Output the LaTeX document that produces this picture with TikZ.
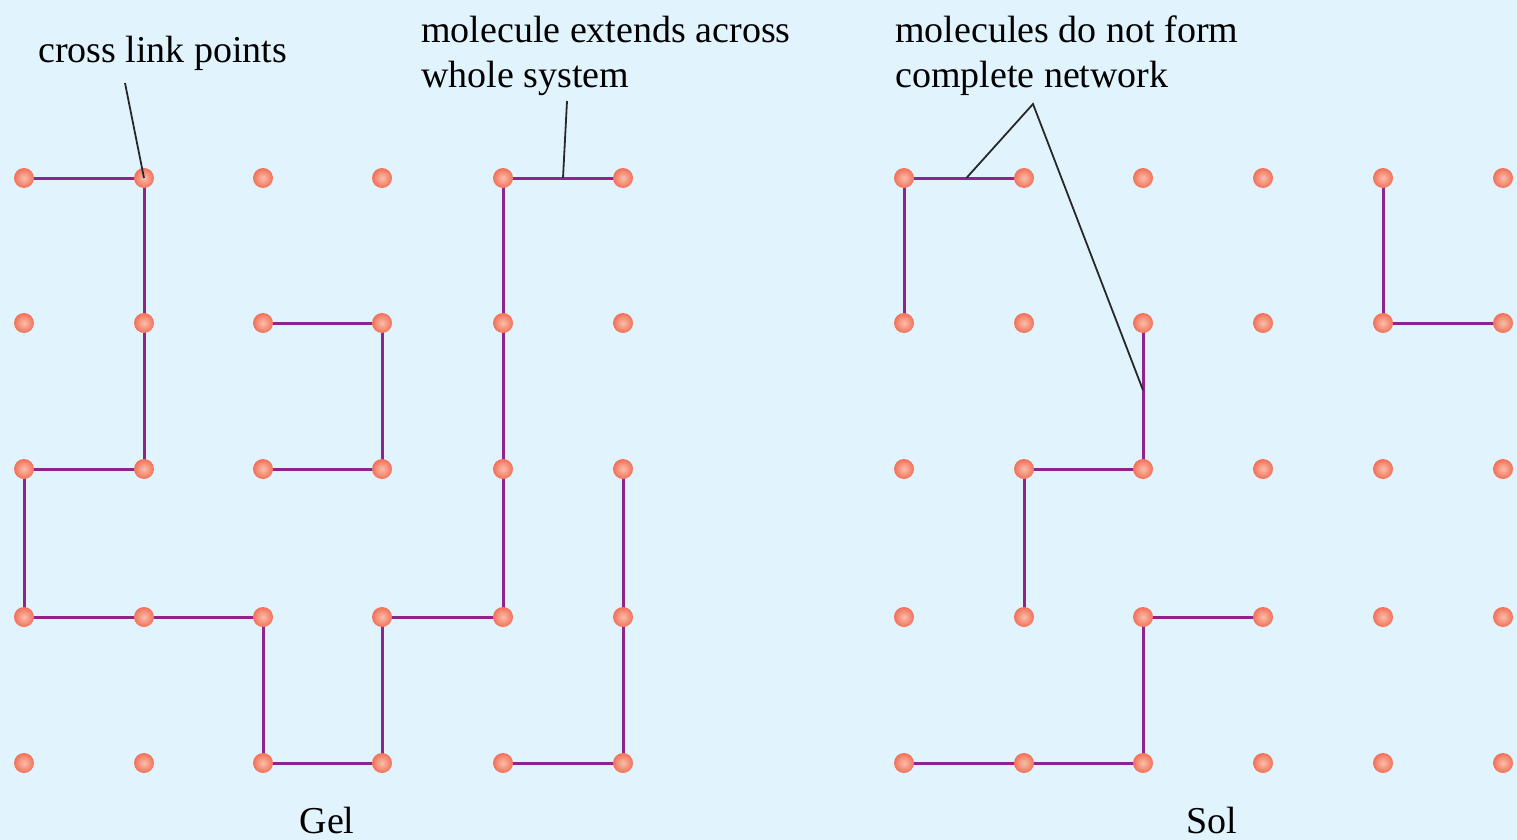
\documentclass[tikz,border=0pt]{standalone}
\usepackage{fontspec}
\setmainfont{Liberation Serif}
\usetikzlibrary{calc,backgrounds}
\definecolor{bgc}{RGB}{225,244,253}
\definecolor{bond}{RGB}{142,36,142}
\definecolor{dotout}{RGB}{243,112,88}
\definecolor{dotin}{RGB}{250,190,170}
\definecolor{ptr}{RGB}{40,40,40}
\tikzset{
  dot/.style={circle,minimum size=20pt,inner sep=0pt,shading=radial,inner color=dotin,outer color=dotout},
  bondline/.style={draw=bond,line width=3pt,line join=miter},
  pointer/.style={draw=ptr,line width=1.8pt},
  lbl/.style={font=\fontsize{38}{45}\selectfont,inner sep=0pt,anchor=base west,text=black}
}
\begin{document}
\begin{tikzpicture}[x=1pt,y=-1pt]
\useasboundingbox (0,0) rectangle (1517,840);
% dots
\foreach \c/\x in {1/24,2/144,3/263,4/382,5/503,6/623}
  \foreach \r/\y in {1/178,2/323,3/469,4/617,5/763}
    \node[dot] (g\c\r) at (\x,\y) {};
\foreach \c/\x in {1/904,2/1024,3/1143,4/1263,5/1383,6/1503}
  \foreach \r/\y in {1/178,2/323,3/469,4/617,5/763}
    \node[dot] (s\c\r) at (\x,\y) {};
\begin{scope}[on background layer]
  \fill[bgc] (0,0) rectangle (1517,840);
  % Gel bonds
  \draw[bondline] (g11.center) -- (g21.center) -- (g23.center) -- (g13.center) -- (g14.center)
     -- (g34.center) -- (g35.center) -- (g45.center) -- (g44.center) -- (g54.center)
     -- (g51.center) -- (g61.center);
  \draw[bondline] (g32.center) -- (g42.center) -- (g43.center) -- (g33.center);
  \draw[bondline] (g55.center) -- (g65.center) -- (g63.center);
  % Sol bonds
  \draw[bondline] (s12.center) -- (s11.center) -- (s21.center);
  \draw[bondline] (s32.center) -- (s33.center) -- (s23.center) -- (s24.center);
  \draw[bondline] (s51.center) -- (s52.center) -- (s62.center);
  \draw[bondline] (s44.center) -- (s34.center) -- (s35.center) -- (s15.center);
\end{scope}
% pointers
\coordinate (p1) at (125,83);
\draw[pointer] (p1) -- (g21.center);
\coordinate (p2) at (567,101);
\coordinate (p2e) at ($(g51)!0.5!(g61)$);
\draw[pointer] (p2) -- (p2e);
\coordinate (p3) at (1033,104);
\coordinate (p3a) at ($(s11)!0.52!(s21)$);
\coordinate (p3b) at ($(s32)!0.46!(s33)$);
\draw[pointer] (p3a) -- (p3) -- (p3b);
% labels
\node[lbl] (t1) at (38,63) {cross link points};
\node[lbl] (t2a) at (421,43) {molecule extends across};
\node[lbl] (t2b) at (421,88) {whole system};
\node[lbl] (t3a) at (895,43) {molecules do not form};
\node[lbl] (t3b) at (895,88) {complete network};
\node[lbl,anchor=base] (gel) at (327,833) {Gel};
\node[lbl,anchor=base] (sol) at (1212,833) {Sol};
\end{tikzpicture}
\end{document}
